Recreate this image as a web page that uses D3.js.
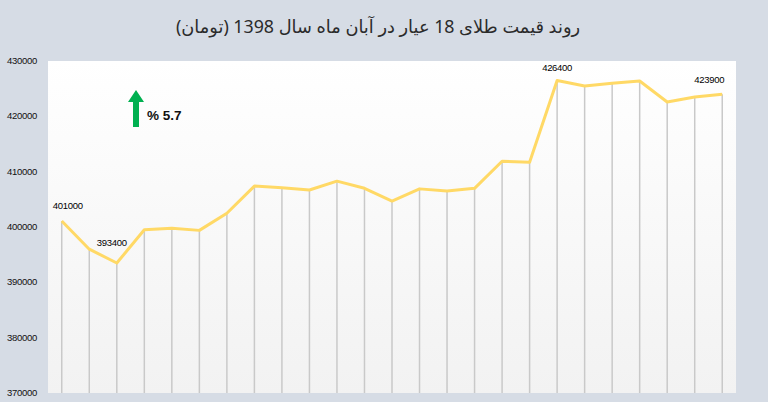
<!DOCTYPE html>
<html>
<head>
<meta charset="utf-8">
<script src="https://cdn.jsdelivr.net/npm/d3@7"></script>
<style>
  html, body { margin: 0; padding: 0; background: #d6dce5; }
  svg { display: block; }
</style>
</head>
<body>
<svg id="chart" width="768" height="402"></svg>
<script>
// ---- data ----
const titleText = "روند قیمت طلای 18 عیار در آبان ماه سال 1398 (تومان)";
const days = ["1","2","3","4","5","6","7","8","9","10","11","12","13","14","15","16","17","18","19","20","21","22","23","24","25"];
const prices = [401000, 395900, 393400, 399400, 399700, 399300, 402400, 407300, 407000, 406600, 408200, 406900, 404600, 406800, 406400, 406900, 411800, 411600, 426400, 425400, 425900, 426300, 422500, 423400, 423900];
const yTicks = [370000, 380000, 390000, 400000, 410000, 420000, 430000];
const labelledDays = ["1", "3", "19", "25"];
const changeText = "% 5.7";

// ---- layout ----
const svg = d3.select("#chart");
const W = 768, H = 402;
const plot = { left: 48, right: 736, top: 61, bottom: 393 };

svg.append("rect").attr("width", W).attr("height", H).attr("fill", "#d6dce5");

const defs = svg.append("defs");
const grad = defs.append("linearGradient").attr("id", "bg").attr("x1", 0).attr("y1", 0).attr("x2", 0).attr("y2", 1);
grad.append("stop").attr("offset", "0%").attr("stop-color", "#ffffff");
grad.append("stop").attr("offset", "100%").attr("stop-color", "#f2f2f2");

svg.append("rect")
  .attr("x", plot.left).attr("y", plot.top)
  .attr("width", plot.right - plot.left).attr("height", plot.bottom - plot.top)
  .attr("fill", "url(#bg)");

const x = d3.scaleBand().domain(days).range([plot.left, plot.right]);
const y = d3.scaleLinear().domain([370000, 430000]).range([plot.bottom - 0.5, plot.top - 0.5]);
const cx = d => x(d) + x.bandwidth() / 2;

// title
svg.append("text")
  .attr("x", 378).attr("y", 33)
  .attr("text-anchor", "middle")
  .attr("direction", "rtl")
  .style("unicode-bidi", "embed")
  .attr("font-family", "'Noto Sans', 'DejaVu Sans', sans-serif")
  .attr("font-size", 17.8)
  .attr("fill", "#2b2b2b")
  .text(titleText);

// y axis
const yAxis = d3.axisLeft(y).tickValues(yTicks).tickSize(0).tickPadding(0).tickFormat(d3.format("d"));
const gy = svg.append("g").attr("transform", "translate(37,0)").call(yAxis);
gy.select(".domain").remove();
gy.selectAll("text")
  .attr("font-family", "'Liberation Sans', Arial, sans-serif")
  .attr("font-size", 9.5)
  .attr("letter-spacing", -0.3)
  .attr("fill", "#111111");

// drop lines
svg.append("g").selectAll("line").data(days).join("line")
  .attr("x1", d => cx(d)).attr("x2", d => cx(d))
  .attr("y1", (d, i) => y(prices[i])).attr("y2", plot.bottom)
  .attr("stroke", "#c9c9c9").attr("stroke-width", 1.5);

// line
const line = d3.line().x((d, i) => cx(days[i])).y(d => y(d));
svg.append("path").datum(prices)
  .attr("d", line)
  .attr("fill", "none")
  .attr("stroke", "#ffd966")
  .attr("stroke-width", 3)
  .attr("stroke-linejoin", "round");

// data labels
const labelOffsets = { "1": [6, -12], "3": [-5, -17], "19": [0, -9], "25": [-13, -11] };
svg.append("g").selectAll("text").data(labelledDays).join("text")
  .attr("x", d => cx(d) + labelOffsets[d][0])
  .attr("y", d => y(prices[days.indexOf(d)]) + labelOffsets[d][1])
  .attr("text-anchor", "middle")
  .attr("font-family", "'Liberation Sans', Arial, sans-serif")
  .attr("font-size", 9.5)
  .attr("letter-spacing", -0.3)
  .attr("fill", "#000000")
  .text(d => d3.format("d")(prices[days.indexOf(d)]));

// arrow annotation
const ar = svg.append("g");
ar.append("path")
  .attr("d", "M136,90 L144,102 L139,102 L139,127 L133,127 L133,102 L128,102 Z")
  .attr("fill", "#00b050");
ar.append("text")
  .attr("x", 147).attr("y", 120)
  .attr("font-family", "'Liberation Sans', Arial, sans-serif")
  .attr("font-weight", "bold")
  .attr("font-size", 13.5)
  .attr("fill", "#111111")
  .text(changeText);
</script>
</body>
</html>
